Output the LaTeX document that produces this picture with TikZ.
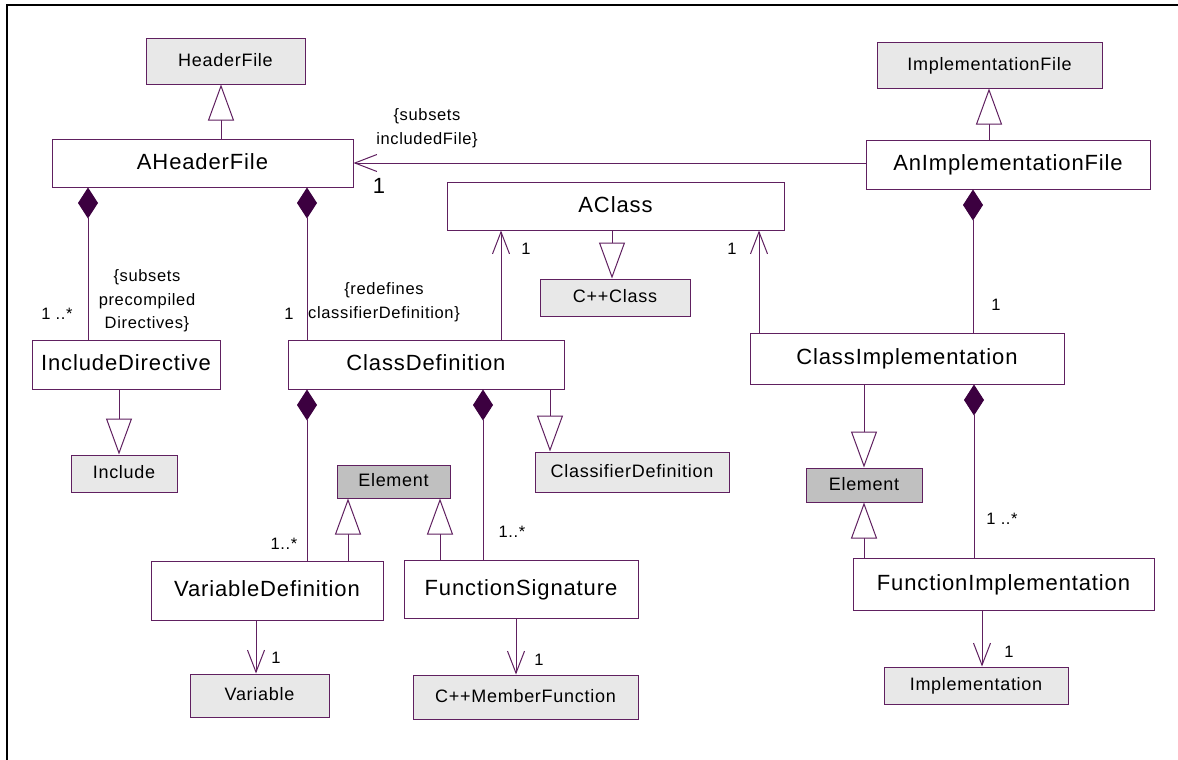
\documentclass[tikz,border=0pt]{standalone}
\usepackage{fontspec}
\setmainfont{Liberation Sans}[LetterSpace=4]
\usetikzlibrary{arrows.meta}
\definecolor{umlline}{RGB}{96,32,96}
\definecolor{umldia}{RGB}{60,0,64}
\definecolor{lightfill}{RGB}{232,232,232}
\definecolor{darkfill}{RGB}{192,192,192}
\tikzset{
  x=1pt, y=-1pt,
  classbox/.style={draw=umlline, line width=1pt, fill=white, inner sep=0pt,
    font=\fontsize{22}{26}\selectfont, text height=16pt, text depth=4pt},
  refbox/.style={draw=umlline, line width=1pt, fill=lightfill, inner sep=0pt,
    font=\fontsize{18}{21}\selectfont, text height=13pt, text depth=3pt},
  elembox/.style={refbox, fill=darkfill},
  conn/.style={draw=umlline, line width=1pt},
  gen/.style={conn, -{Triangle[length=36pt,width=26pt,fill=white,line width=1pt]}},
  comp/.style={conn, {Diamond[length=31pt,width=20pt,fill=umldia,color=umldia]}-},
  nav/.style={conn, -{Straight Barb[length=22pt,width=17pt,line width=1pt]}},
  mult/.style={font=\fontsize{16.5}{19}\selectfont, inner sep=0pt},
  constr/.style={font=\fontsize{16.5}{23.5}\selectfont, inner sep=0pt, align=center},
}
\begin{document}
\begin{tikzpicture}
\useasboundingbox (0,0) rectangle (1178,760);
\fill[white] (0,0) rectangle (1178,760);
\draw[line width=2.2pt] (7,760) -- (7,5) -- (1178,5);

% nodes
\node[refbox, minimum width=159pt, minimum height=45pt] (hf) at (225.5,61.5) {HeaderFile};
\node[classbox, minimum width=301pt, minimum height=48pt] (ahf) at (202.5,163) {AHeaderFile};
\node[refbox, minimum width=225pt, minimum height=45pt] (impf) at (989.5,65.5) {ImplementationFile};
\node[classbox, minimum width=284pt, minimum height=49pt] (aif) at (1008,164.5) {AnImplementationFile};
\node[classbox, minimum width=337pt, minimum height=48pt] (acl) at (615.5,206) {AClass};
\node[refbox, minimum width=150pt, minimum height=37pt] (cppc) at (615,297.5) {C++Class};
\node[classbox, minimum width=188pt, minimum height=49pt] (incd) at (126,364.5) {IncludeDirective};
\node[refbox, minimum width=106pt, minimum height=37pt] (inc) at (124,473.5) {Include};
\node[classbox, minimum width=276pt, minimum height=49pt] (cdef) at (426,364.5) {ClassDefinition};
\node[refbox, minimum width=194pt, minimum height=40pt] (clfd) at (632,472) {ClassifierDefinition};
\node[classbox, minimum width=314pt, minimum height=51pt] (cimp) at (907,358.5) {ClassImplementation};
\node[elembox, minimum width=113pt, minimum height=33pt] (elL) at (393.5,481.5) {Element};
\node[elembox, minimum width=116pt, minimum height=34pt] (elR) at (864,485) {Element};
\node[classbox, minimum width=232pt, minimum height=59pt] (vdef) at (267,590.5) {VariableDefinition};
\node[classbox, minimum width=234pt, minimum height=58pt] (fsig) at (521,589) {FunctionSignature};
\node[classbox, minimum width=301pt, minimum height=52pt] (fimp) at (1003.5,584) {FunctionImplementation};
\node[refbox, minimum width=139pt, minimum height=43pt] (var) at (259.5,695.5) {Variable};
\node[refbox, minimum width=225pt, minimum height=44pt] (cmf) at (525.5,697) {C++MemberFunction};
\node[refbox, minimum width=184pt, minimum height=37pt] (impl) at (976,685.5) {Implementation};

% generalizations
\draw[gen] (ahf.north -| 221,0) -- (hf.south -| 221,0);
\draw[gen] (aif.north -| 989,0) -- (impf.south -| 989,0);
\draw[gen] (acl.south -| 612,0) -- (cppc.north -| 612,0);
\draw[gen] (incd.south -| 119,0) -- (inc.north -| 119,0);
\draw[gen] (cdef.south -| 550,0) -- (clfd.north -| 550,0);
\draw[gen] (vdef.north -| 348,0) -- (elL.south -| 348,0);
\draw[gen] (fsig.north -| 440,0) -- (elL.south -| 440,0);
\draw[gen] (cimp.south -| 864,0) -- (elR.north -| 864,0);
\draw[gen] (fimp.north -| 864,0) -- (elR.south -| 864,0);

% compositions
\draw[comp] (ahf.south -| 88,0) -- (incd.north -| 88,0);
\draw[comp] (ahf.south -| 307,0) -- (cdef.north -| 307,0);
\draw[comp] (aif.south -| 973,0) -- (cimp.north -| 973,0);
\draw[comp] (cdef.south -| 307,0) -- (vdef.north -| 307,0);
\draw[comp] (cdef.south -| 483,0) -- (fsig.north -| 483,0);
\draw[comp] (cimp.south -| 974,0) -- (fimp.north -| 974,0);

% navigable associations
\draw[nav] (aif.west |- 0,163) -- (ahf.east |- 0,163);
\draw[nav] (cdef.north -| 501,0) -- (acl.south -| 501,0);
\draw[nav] (cimp.north -| 759,0) -- (acl.south -| 759,0);
\draw[nav] (vdef.south -| 256,0) -- (var.north -| 256,0);
\draw[nav] (fsig.south -| 516,0) -- (cmf.north -| 516,0);
\draw[nav] (fimp.south -| 982,0) -- (impl.north -| 982,0);

% labels
\node[constr] (lsub1) at (427,128) {\{subsets\\includedFile\}};
\node[font=\fontsize{22}{24}\selectfont, inner sep=0pt] (m1) at (379,186) {1};
\node[constr] (lsub2) at (147,301) {\{subsets\\precompiled\\Directives\}};
\node[mult] (m2) at (57,314) {1 ..*};
\node[mult] (m3) at (289,314) {1};
\node[constr] (lred) at (384,302) {\{redefines\\classifierDefinition\}};
\node[mult] (m4) at (526,249) {1};
\node[mult] (m5) at (732,249) {1};
\node[mult] (m6) at (996,305) {1};
\node[mult] (m7) at (284,544) {1..*};
\node[mult] (m8) at (512,532) {1..*};
\node[mult] (m9) at (1002,519) {1 ..*};
\node[mult] (m10) at (276,658) {1};
\node[mult] (m11) at (539,660) {1};
\node[mult] (m12) at (1009,652) {1};
\end{tikzpicture}
\end{document}
